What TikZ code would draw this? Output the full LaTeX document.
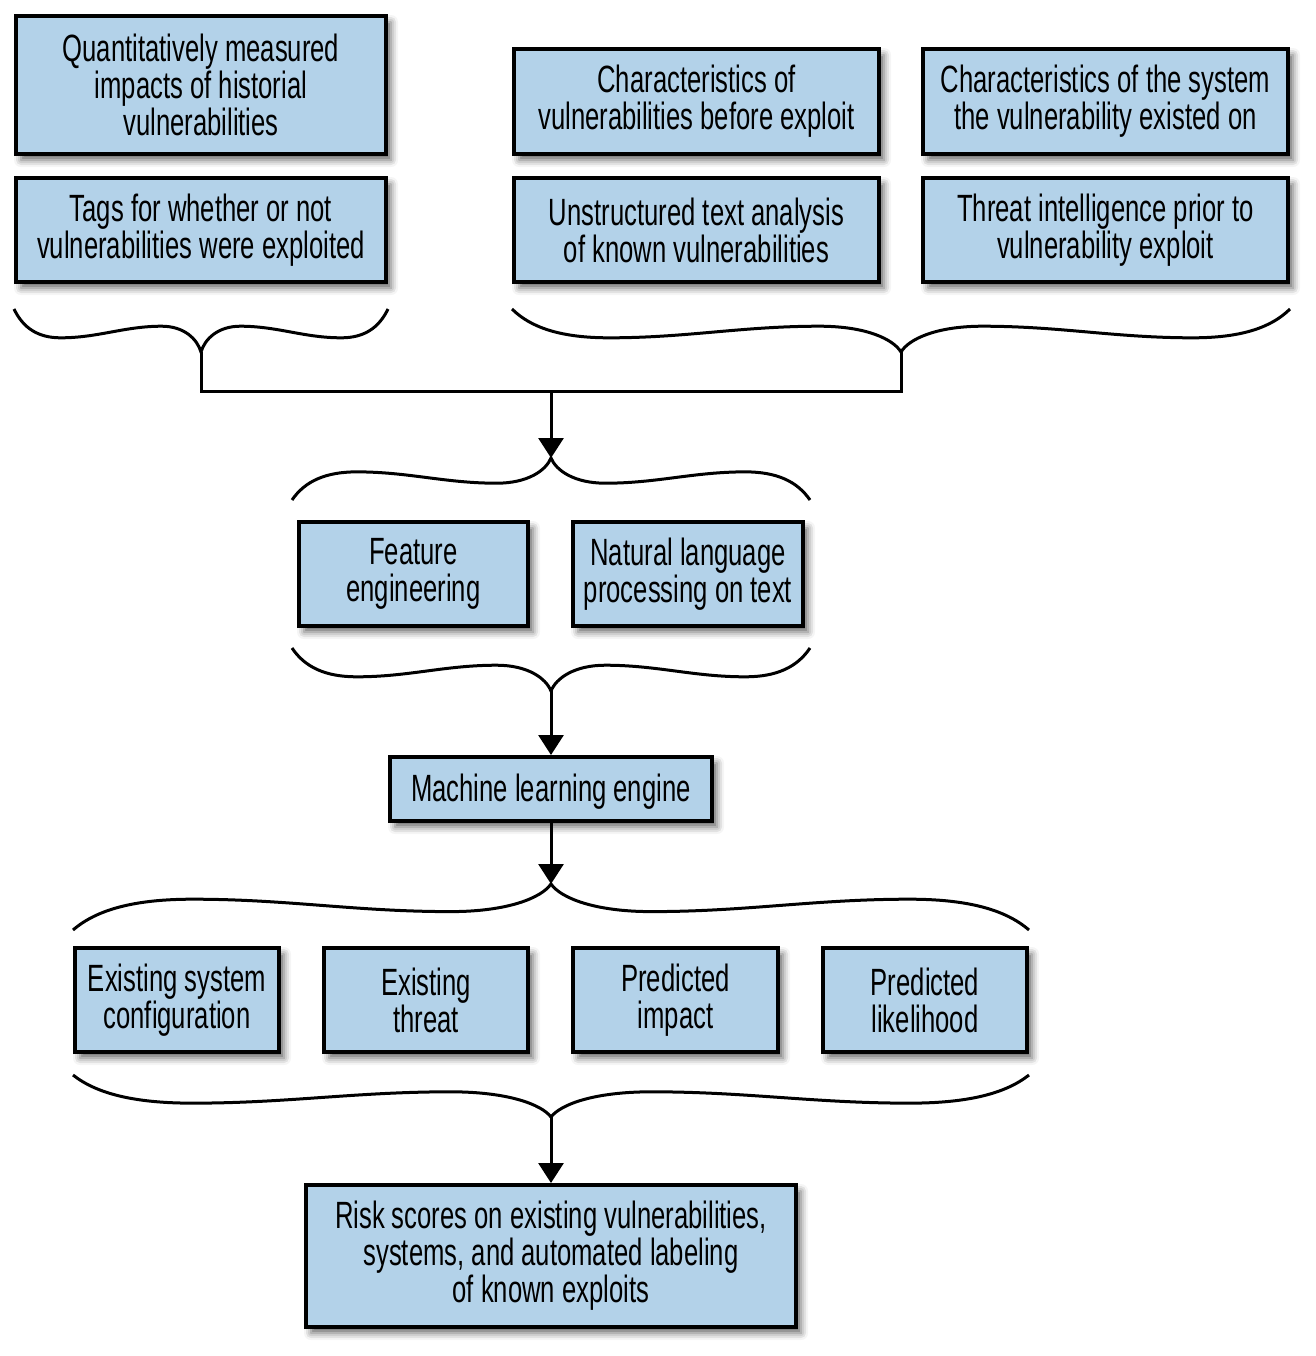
\documentclass[tikz,border=0pt]{standalone}
\usepackage{fontspec}
\setmainfont[FakeStretch=0.675]{Liberation Sans}
\usetikzlibrary{arrows.meta,shadows.blur}
\definecolor{boxblue}{RGB}{179,210,233}
\newcommand\boxfont{\fontsize{19}{18.5}\selectfont}
% curly brace: x1, x2, y0, h (signed), tip name
\newcommand\curlybrace[5]{%
  \pgfmathsetmacro\bL{(#2-#1)/2}%
  \pgfmathsetmacro\bm{(#1+#2)/2}%
  \pgfmathsetmacro\pax{#1+0.25*\bL}\pgfmathsetmacro\pay{#3+0.67*#4}%
  \pgfmathsetmacro\qax{#1+0.79*\bL}\pgfmathsetmacro\qay{#3+0.40*#4}%
  \pgfmathsetmacro\qbx{#1+1.21*\bL}%
  \pgfmathsetmacro\pbx{#1+1.75*\bL}%
  \pgfmathsetmacro\ty{#3+#4}%
  \coordinate (#5) at (\bm,\ty);
  \draw[bracestyle] (#1,#3)
    .. controls +(0.05*\bL,0.45*#4) and +(-0.12*\bL,0) .. (\pax,\pay)
    .. controls +(0.2*\bL,0) and +(-0.2*\bL,0) .. (\qax,\qay)
    .. controls +(0.12*\bL,0) and +(-0.02*\bL,-0.3*#4) .. (#5)
    .. controls +(0.02*\bL,-0.3*#4) and +(-0.12*\bL,0) .. (\qbx,\qay)
    .. controls +(0.2*\bL,0) and +(-0.2*\bL,0) .. (\pbx,\pay)
    .. controls +(0.12*\bL,0) and +(-0.05*\bL,0.45*#4) .. (#2,#3);
}
\begin{document}
\begin{tikzpicture}[x=0.5pt,y=-0.5pt,
  box/.style={draw=black, line width=2pt, fill=boxblue, align=center,
    inner sep=0pt, font=\boxfont, execute at begin node={\rule{0pt}{16.5pt}},
    blur shadow={shadow xshift=2.5pt, shadow yshift=-3pt, shadow blur radius=3.5pt, shadow opacity=60}},
  bracestyle/.style={draw=black, line width=1.5pt, line cap=butt},
  conn/.style={draw=black, line width=1.5pt},
  arr/.style={conn, -{Triangle[length=10pt,width=12.5pt]}}]
\useasboundingbox (0,0) rectangle (1316,1356);
% top row
\node[box, minimum width=185pt, minimum height=69pt] (q) at (201,85)
  {Quantitatively measured\\impacts of historial\\vulnerabilities};
\node[box, minimum width=185pt, minimum height=52pt] (tg) at (201,230)
  {Tags for whether or not\\vulnerabilities were exploited};
\node[box, minimum width=182.5pt, minimum height=52.5pt] (cv) at (696.5,101.5)
  {Characteristics of\\vulnerabilities before exploit};
\node[box, minimum width=182.5pt, minimum height=52.5pt] (cs) at (1105.5,101.5)
  {Characteristics of the system\\the vulnerability existed on};
\node[box, minimum width=182.5pt, minimum height=52pt] (ut) at (696.5,230)
  {Unstructured text analysis\\of known vulnerabilities};
\node[box, minimum width=182.5pt, minimum height=52pt] (ti) at (1105.5,230)
  {Threat intelligence prior to\\vulnerability exploit};
% middle
\node[box, minimum width=114.5pt, minimum height=52pt] (fe) at (413.5,574)
  {Feature\\engineering};
\node[box, minimum width=115pt, minimum height=52pt] (nl) at (688,574)
  {Natural language\\processing on text};
\node[box, minimum width=161pt, minimum height=32pt] (ml) at (551,789)
  {Machine learning engine};
% outputs
\node[box, minimum width=102pt, minimum height=52pt] (es) at (177,1000)
  {Existing system\\configuration};
\node[box, minimum width=102pt, minimum height=52pt] (et) at (426,1000)
  {Existing\\threat};
\node[box, minimum width=102.5pt, minimum height=52pt] (pi) at (675.5,1000)
  {Predicted\\impact};
\node[box, minimum width=102pt, minimum height=52pt] (pl) at (925,1000)
  {Predicted\\likelihood};
\node[box, minimum width=245pt, minimum height=71pt] (rs) at (551,1256)
  {Risk scores on existing vulnerabilities,\\systems, and automated labeling\\of known exploits};
% braces
\curlybrace{14}{388}{309}{43}{t1}
\curlybrace{512}{1290}{309}{43}{t2}
\curlybrace{292}{810}{500}{-42}{t3}
\curlybrace{292}{810}{648}{43}{t4}
\curlybrace{73}{1029}{930}{-46}{t5}
\curlybrace{73}{1029}{1075}{42}{t6}
% connectors
\coordinate (j) at (551,391);
\draw[conn] (t1) |- (j) -| (t2);
\draw[arr] (j) -- (t3);
\draw[arr] (t4) -- (ml.north);
\draw[arr] (ml.south) -- (t5);
\draw[arr] (t6) -- (rs.north);
\end{tikzpicture}
\end{document}
